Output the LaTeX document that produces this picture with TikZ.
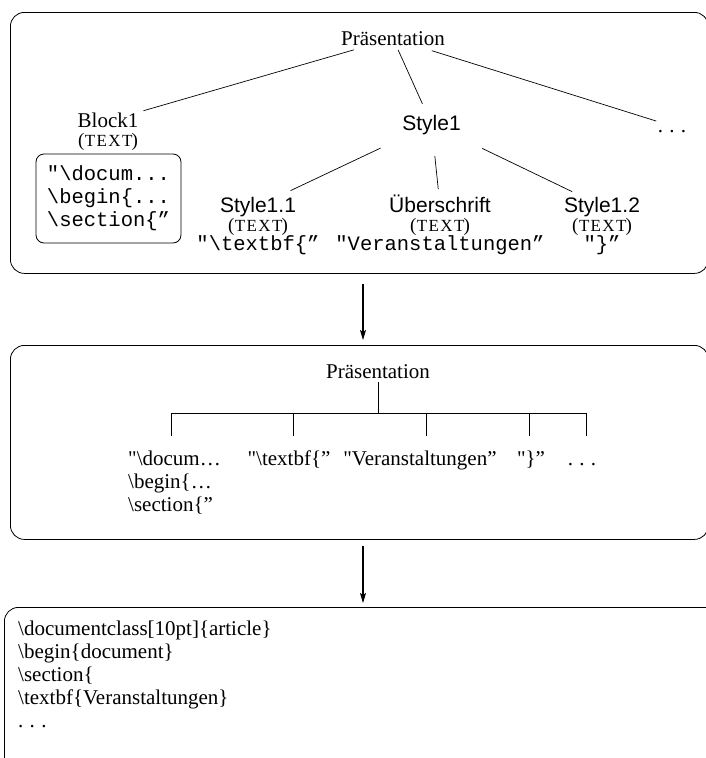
\documentclass[tikz,border=0pt]{standalone}
\usepackage{fontspec}
\setmainfont{Liberation Serif}
\setsansfont{Liberation Sans}
\setmonofont{Liberation Mono}
\usetikzlibrary{arrows.meta}
% widely spaced ellipsis
\newcommand\spdots{.\kern0.3em.\kern0.3em.}
\newcommand\qo{\textquotedbl}
% type tag in small capitals between full-size parentheses
\newcommand\typetag[1]{(\kern0.5pt{\fontsize{17}{19}\selectfont\addfontfeature{LetterSpace=8}#1}\kern-1pt)}

\begin{document}
\begin{tikzpicture}[x=1pt,y=-1pt,
  panel/.style={draw, rounded corners=14pt, line width=0.8pt, anchor=north west, inner sep=0pt},
  lbl/.style={inner sep=0pt, text height=15pt, text depth=2pt},
  tm/.style={lbl, font=\fontsize{21}{23}\selectfont},
  hv/.style={lbl, font=\sffamily\fontsize{21}{23}\selectfont},
  tag/.style={inner sep=0pt, anchor=base, font=\fontsize{19}{21}\selectfont},
  val/.style={inner sep=0pt, anchor=base, font=\ttfamily\fontsize{20.5}{23}\selectfont},
  leaf/.style={inner sep=0pt, anchor=base, font=\fontsize{21}{23}\selectfont},
  edge/.style={line width=0.7pt},
  flow/.style={-{Stealth[length=10pt,width=6pt,inset=2pt]}, line width=1.2pt}]

\useasboundingbox (0,0) rectangle (706,758);

% ---- the three panels ----
\node[panel, minimum width=698pt, minimum height=261pt] (top) at (10,12) {};
\node[panel, minimum width=698pt, minimum height=194pt] (mid) at (10,345) {};
\node[panel, minimum width=724pt, minimum height=200pt] (bot) at (4,607) {};

% ---- structure tree ----
\node[tm] (p1) at (393,38.5) {Präsentation};
\node[tm] (b1) at (108,121) {Block1};
\node[tag] (b1t) at (108,146) {\typetag{TEXT}};
\node[draw, rounded corners=8pt, line width=0.8pt, inner sep=0pt,
      minimum width=145pt, minimum height=89pt, align=left,
      font=\ttfamily\fontsize{20.5}{23}\selectfont] (blk) at (108.5,198.5)
  {"\textbackslash docum...\\\textbackslash begin\{...\\\textbackslash section\{”};
\node[hv] (s1) at (431.5,124) {Style1};
\node[tm] (d1) at (672,126) {\spdots};

\node[hv] (s11) at (258,206) {Style1.1};
\node[tag] (s11t) at (258,231) {\typetag{TEXT}};
\node[val] (s11v) at (258,250.5) {"\textbackslash textbf\{”};

\node[hv] (ub) at (440,206) {Überschrift};
\node[tag] (ubt) at (440,231) {\typetag{TEXT}};
\node[val] (ubv) at (440,250.5) {"Veranstaltungen”};

\node[hv] (s12) at (602,206) {Style1.2};
\node[tag] (s12t) at (602,231) {\typetag{TEXT}};
\node[val] (s12v) at (602,250.5) {"\}”};

\draw[edge, shorten <=40.7pt, shorten >=37pt] (p1.center) -- (b1.center);
\draw[edge, shorten <=12.5pt, shorten >=22.1pt] (p1.center) -- (s1.center);
\draw[edge, shorten <=40.7pt, shorten >=16.6pt] (p1.center) -- (d1.center);
\draw[edge, shorten <=56.3pt, shorten >=36pt] (s1.center) -- (s11.center);
\draw[edge, shorten <=32.2pt, shorten >=17pt] (s1.center) -- (ub.center);
\draw[edge, shorten <=56.3pt, shorten >=33pt] (s1.center) -- (s12.center);

% ---- flattened list ----
\node[tm, inner sep=2pt] (p2) at (378,371.5) {Präsentation};
\coordinate (bus) at (378,413);
\coordinate (k1) at (171,436);
\coordinate (k2) at (293,436);
\coordinate (k3) at (426,436);
\coordinate (k4) at (529,436);
\coordinate (k5) at (586,436);
\draw[edge] (p2.south) -- (bus);
\draw[edge] (k1) -- (k1 |- bus) -- (k5 |- bus) -- (k5);
\foreach \k in {k2,k3,k4} \draw[edge] (\k) -- (\k |- bus);

% multi-line node: its base is the baseline of the last line
\node[leaf, anchor=base west, align=left] (m1) at (128,511)
  {\qo\textbackslash docum…\\\textbackslash begin\{…\\\textbackslash section\{”};
\node[leaf] (m2) at (289,465) {\qo\textbackslash textbf\{”};
\node[leaf] (m3) at (420,465) {\qo Veranstaltungen”};
\node[leaf] (m4) at (531,465) {\qo\}”};
\node[leaf] (m5) at (582,465) {\spdots};

% ---- generated source ----
\node[inner sep=0pt, anchor=base west, align=left, font=\fontsize{21}{23}\selectfont] (src) at (18,727)
  {\textbackslash documentclass[10pt]\{article\}\\
   \textbackslash begin\{document\}\\
   \textbackslash section\{\\
   \textbackslash textbf\{Veranstaltungen\}\\
   \spdots};

% ---- transformation arrows ----
\coordinate (ax) at (363,0);
\draw[flow, shorten <=10pt, shorten >=5pt] (top.south -| ax) -- (mid.north -| ax);
\draw[flow, shorten <=6pt, shorten >=4pt] (mid.south -| ax) -- (bot.north -| ax);
\end{tikzpicture}
\end{document}
